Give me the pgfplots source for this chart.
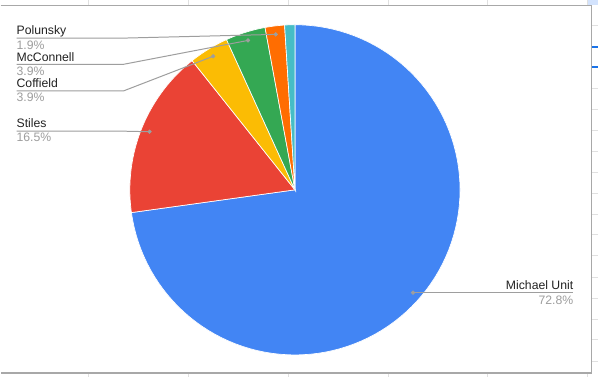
\documentclass[border=0pt]{standalone}
\usepackage{pgfplots}
\usepackage{pgfplotstable}
\pgfplotsset{compat=1.18}
\usepackage{fontspec}
\setmainfont{Liberation Sans}

\definecolor{cblue}{HTML}{4285F4}
\definecolor{cred}{HTML}{EA4335}
\definecolor{cyellow}{HTML}{FBBC04}
\definecolor{cgreen}{HTML}{34A853}
\definecolor{corange}{HTML}{FF6D01}
\definecolor{ccyan}{HTML}{46BDC6}
\definecolor{ctext}{HTML}{222222}
\definecolor{cpct}{HTML}{9E9E9E}
\definecolor{clead}{HTML}{9E9E9E}
\definecolor{cgrid}{HTML}{E0E0E0}
\definecolor{cborder}{HTML}{A8A8A8}
\definecolor{csel}{HTML}{1A73E8}
\definecolor{ccell}{HTML}{D3E3FD}

\tikzset{lab/.style={inner sep=0pt, outer sep=0pt, font=\fontsize{9.2}{11}\selectfont}}

\pgfplotstableread[col sep=comma]{
label,value
Michael Unit,72.8
Stiles,16.5
Coffield,3.9
McConnell,3.9
Polunsky,1.9
Other,1.0
}\piedata

\begin{document}
\begin{tikzpicture}
\pgfplotstablegetelem{0}{value}\of\piedata \let\vA=\pgfplotsretval
\pgfplotstablegetelem{1}{value}\of\piedata \let\vB=\pgfplotsretval
\pgfplotstablegetelem{2}{value}\of\piedata \let\vC=\pgfplotsretval
\pgfplotstablegetelem{3}{value}\of\piedata \let\vD=\pgfplotsretval
\pgfplotstablegetelem{4}{value}\of\piedata \let\vE=\pgfplotsretval
\pgfplotstablegetelem{5}{value}\of\piedata \let\vF=\pgfplotsretval
\pgfmathsetmacro\aA{-90}
\pgfmathsetmacro\aB{\aA+3.6*\vA}
\pgfmathsetmacro\aC{\aB+3.6*\vB}
\pgfmathsetmacro\aD{\aC+3.6*\vC}
\pgfmathsetmacro\aE{\aD+3.6*\vD}
\pgfmathsetmacro\aF{\aE+3.6*\vE}
\pgfmathsetmacro\aG{\aF+3.6*\vF}
\def\cx{295}\def\cy{189.8}\def\R{165.5}\def\rd{157}
\pgfmathsetmacro\dAx{\cx+\rd*cos((\aA+\aB)/2)}\pgfmathsetmacro\dAy{\cy+\rd*sin((\aA+\aB)/2)}
\pgfmathsetmacro\dBx{\cx+\rd*cos((\aB+\aC)/2)}\pgfmathsetmacro\dBy{\cy+\rd*sin((\aB+\aC)/2)}
\pgfmathsetmacro\dCx{\cx+\rd*cos((\aC+\aD)/2)}\pgfmathsetmacro\dCy{\cy+\rd*sin((\aC+\aD)/2)}
\pgfmathsetmacro\dDx{\cx+\rd*cos((\aD+\aE)/2)}\pgfmathsetmacro\dDy{\cy+\rd*sin((\aD+\aE)/2)}
\pgfmathsetmacro\dEx{\cx+\rd*cos((\aE+\aF)/2)}\pgfmathsetmacro\dEy{\cy+\rd*sin((\aE+\aF)/2)}
\begin{axis}[
  x=0.75pt, y=0.75pt,
  xmin=0, xmax=599, ymin=0, ymax=377,
  y dir=reverse,
  scale only axis, hide axis, clip=false,
  enlargelimits=false,
  slice/.style={draw=white, line width=0.5pt, samples=100},
  leader/.style={clead, line width=0.75pt, mark=none},
  dot/.style={only marks, mark=*, mark size=1.4pt, clead, mark options={fill=clead, draw=clead}},
]
% background
\fill[white] (axis cs:0,0) rectangle (axis cs:599,377);
% spreadsheet surroundings
\pgfplotsinvokeforeach{88.3,188.3,288.3,388.3,488.3,588.3}{
  \draw[cgrid, line width=0.75pt] (axis cs:#1,0) -- (axis cs:#1,4.5);
  \draw[cgrid, line width=0.75pt] (axis cs:#1,373.5) -- (axis cs:#1,377);
}
\fill[ccell] (axis cs:588.6,0) rectangle (axis cs:599,4.2);
\pgfplotsinvokeforeach{25,88.3,109.3,130,151,172.3,193.3,214.3,235,256,277.3,298.3,319.3,340.3,361.7}{
  \draw[cgrid, line width=0.75pt] (axis cs:593,#1) -- (axis cs:599,#1);
}
\draw[csel, line width=1.2pt] (axis cs:593,46.7) -- (axis cs:599,46.7);
\draw[csel, line width=1.2pt] (axis cs:593,66.7) -- (axis cs:599,66.7);
\draw[cborder, line width=1pt] (axis cs:0,4.7) -- (axis cs:592.3,4.7) -- (axis cs:592.3,373.3) -- (axis cs:0,373.3);

% pie slices
\addplot[slice, fill=cblue,   domain=\aA:\aB] ({\cx+\R*cos(x)},{\cy+\R*sin(x)}) -- (axis cs:\cx,\cy) -- cycle;
\addplot[slice, fill=cred,    domain=\aB:\aC] ({\cx+\R*cos(x)},{\cy+\R*sin(x)}) -- (axis cs:\cx,\cy) -- cycle;
\addplot[slice, fill=cyellow, domain=\aC:\aD] ({\cx+\R*cos(x)},{\cy+\R*sin(x)}) -- (axis cs:\cx,\cy) -- cycle;
\addplot[slice, fill=cgreen,  domain=\aD:\aE] ({\cx+\R*cos(x)},{\cy+\R*sin(x)}) -- (axis cs:\cx,\cy) -- cycle;
\addplot[slice, fill=corange, domain=\aE:\aF] ({\cx+\R*cos(x)},{\cy+\R*sin(x)}) -- (axis cs:\cx,\cy) -- cycle;
\addplot[slice, fill=ccyan,   domain=\aF:\aG] ({\cx+\R*cos(x)},{\cy+\R*sin(x)}) -- (axis cs:\cx,\cy) -- cycle;

% leader lines
\addplot[leader] coordinates {(\dAx,\dAy) (574,\dAy)};
\addplot[leader] coordinates {(\dBx,\dBy) (123,131) (16,131)};
\addplot[leader] coordinates {(\dCx,\dCy) (123,90.7) (16,90.7)};
\addplot[leader] coordinates {(\dDx,\dDy) (123,64) (16,64)};
\addplot[leader] coordinates {(\dEx,\dEy) (123,37.7) (16,37.7)};
\addplot[dot] coordinates {(\dAx,\dAy) (\dBx,\dBy) (\dCx,\dCy) (\dDx,\dDy) (\dEx,\dEy)};

% labels
\node[lab, anchor=base west, text=ctext] at (axis cs:16,34.5) {Polunsky};
\node[lab, anchor=base west, text=cpct]  at (axis cs:16,48.7) {1.9\%};
\node[lab, anchor=base west, text=ctext] at (axis cs:16,61) {McConnell};
\node[lab, anchor=base west, text=cpct]  at (axis cs:16,74.7) {3.9\%};
\node[lab, anchor=base west, text=ctext] at (axis cs:16,87.3) {Coffield};
\node[lab, anchor=base west, text=cpct]  at (axis cs:16,101.7) {3.9\%};
\node[lab, anchor=base west, text=ctext] at (axis cs:16,127.7) {Stiles};
\node[lab, anchor=base west, text=cpct]  at (axis cs:16,141.7) {16.5\%};
\node[lab, anchor=base east, text=ctext] at (axis cs:574,289.3) {Michael Unit};
\node[lab, anchor=base east, text=cpct]  at (axis cs:574,305) {72.8\%};
\end{axis}
\end{tikzpicture}
\end{document}
